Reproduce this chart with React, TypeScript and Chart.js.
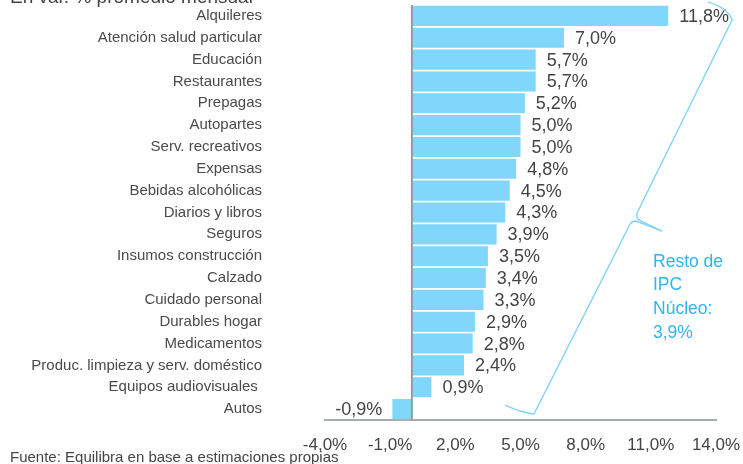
import { useEffect, useRef } from 'react';
import { Chart, registerables } from 'chart.js';

Chart.register(...registerables);

const categories = [
  'Alquileres',
  'Atención salud particular',
  'Educación',
  'Restaurantes',
  'Prepagas',
  'Autopartes',
  'Serv. recreativos',
  'Expensas',
  'Bebidas alcohólicas',
  'Diarios y libros',
  'Seguros',
  'Insumos construcción',
  'Calzado',
  'Cuidado personal',
  'Durables hogar',
  'Medicamentos',
  'Produc. limpieza y serv. doméstico',
  'Equipos audiovisuales ',
  'Autos',
];
const values = [11.8, 7.0, 5.7, 5.7, 5.2, 5.0, 5.0, 4.8, 4.5, 4.3, 3.9, 3.5, 3.4, 3.3, 2.9, 2.8, 2.4, 0.9, -0.9];
const xTicks = [-4, -1, 2, 5, 8, 11, 14];
const titleText = 'En var. % promedio mensual';
const sourceText = 'Fuente: Equilibra en base a estimaciones propias';
const noteLines = ['Resto de', 'IPC', 'Núcleo:', '3,9%'];

const FONT = '"Liberation Sans", Arial, Helvetica, sans-serif';
const fmt = (v: number) => v.toFixed(1).replace('.', ',') + '%';

// brace annotation, in data units (x value, category index)
const braceA: [number, number][] = [
  [13.63, -0.64], [14.55, -0.36], [14.74, 0.19], [10.41, 8.93], [10.23, 9.25], [10.55, 9.39], [11.51, 9.85],
];
const braceB: [number, number][] = [
  [11.51, 9.85], [10.32, 9.39], [10.09, 9.39], [10.0, 9.62], [5.62, 18.23], [4.98, 18.14], [4.29, 17.82],
];

const overlay = {
  id: 'overlay',
  afterDatasetsDraw(chart: any) {
    const { ctx, chartArea, scales } = chart;
    const x = scales.x;
    const y = scales.y;
    ctx.save();
    // zero line
    const zx = x.getPixelForValue(0);
    ctx.strokeStyle = '#9a9a9a';
    ctx.lineWidth = 2;
    ctx.beginPath();
    ctx.moveTo(zx, chartArea.top);
    ctx.lineTo(zx, chartArea.bottom);
    ctx.stroke();

    // value labels
    ctx.font = `18px ${FONT}`;
    ctx.fillStyle = '#444444';
    ctx.textBaseline = 'middle';
    const meta = chart.getDatasetMeta(0);
    meta.data.forEach((bar: any, i: number) => {
      const v = values[i];
      if (v >= 0) {
        ctx.textAlign = 'left';
        ctx.fillText(fmt(v), bar.x + 11, bar.y + 1);
      } else {
        ctx.textAlign = 'right';
        ctx.fillText(fmt(v), bar.x - 10, bar.y + 1);
      }
    });

    // brace
    const P = (p: [number, number]) => [x.getPixelForValue(p[0]), y.getPixelForValue(p[1])];
    ctx.strokeStyle = '#7fd3f7';
    ctx.lineWidth = 1.4;
    const drawHalf = (pts: [number, number][], first: boolean) => {
      const q = pts.map(P);
      ctx.beginPath();
      ctx.moveTo(q[0][0], q[0][1]);
      if (first) {
        ctx.quadraticCurveTo(q[1][0], q[1][1], q[2][0], q[2][1]);
        ctx.lineTo(q[3][0], q[3][1]);
        ctx.quadraticCurveTo(q[4][0], q[4][1], q[5][0], q[5][1]);
        ctx.lineTo(q[6][0], q[6][1]);
      } else {
        ctx.lineTo(q[1][0], q[1][1]);
        ctx.quadraticCurveTo(q[2][0], q[2][1], q[3][0], q[3][1]);
        ctx.lineTo(q[4][0], q[4][1]);
        ctx.quadraticCurveTo(q[5][0], q[5][1], q[6][0], q[6][1]);
      }
      ctx.stroke();
    };
    drawHalf(braceA, true);
    drawHalf(braceB, false);

    // note text
    ctx.font = `17.5px ${FONT}`;
    ctx.fillStyle = '#2db6ef';
    ctx.textAlign = 'left';
    ctx.textBaseline = 'middle';
    const nx = x.getPixelForValue(11.1);
    noteLines.forEach((t, i) => {
      ctx.fillText(t, nx, y.getPixelForValue(11.27 + i * 1.08));
    });

    // title (cut off at top) and source
    ctx.fillStyle = '#444444';
    ctx.textBaseline = 'alphabetic';
    ctx.font = `19px ${FONT}`;
    ctx.fillText(titleText, 10, 3);
    ctx.font = `15px ${FONT}`;
    ctx.fillText(sourceText, 10, 462);
    ctx.restore();
  },
};

export default function App() {
  const ref = useRef<HTMLCanvasElement | null>(null);
  useEffect(() => {
    if (!ref.current) return;
    const chart = new Chart(ref.current, {
      type: 'bar',
      data: {
        labels: categories,
        datasets: [
          {
            data: values,
            backgroundColor: '#80d6fb',
            borderWidth: 0,
            barPercentage: 0.92,
            categoryPercentage: 1,
          },
        ],
      },
      options: {
        indexAxis: 'y',
        animation: false,
        responsive: false,
        events: [],
        layout: { padding: { top: 5, right: 27, bottom: 0, left: 0 } },
        plugins: { legend: { display: false }, tooltip: { enabled: false }, title: { display: false } },
        scales: {
          x: {
            type: 'linear',
            min: -4,
            max: 14,
            afterBuildTicks: (s: any) => {
              s.ticks = xTicks.map((v) => ({ value: v }));
            },
            afterFit: (s: any) => {
              s.height = 44;
              s.paddingLeft = 0;
              s.paddingRight = 0;
              s.paddingTop = 0;
              s.paddingBottom = 0;
            },
            grid: { display: false, drawTicks: false },
            border: { display: true, color: '#a6aeae', width: 2 },
            ticks: {
              padding: 15,
              color: '#444444',
              font: { family: FONT, size: 17 },
              maxRotation: 0,
              autoSkip: false,
              callback: (v: any) => fmt(Number(v)),
            },
          },
          y: {
            type: 'category',
            afterFit: (s: any) => {
              s.width = 325;
              s.paddingLeft = 0;
              s.paddingRight = 0;
              s.paddingTop = 0;
              s.paddingBottom = 0;
            },
            grid: { display: false, drawTicks: false },
            border: { display: false },
            ticks: {
              padding: 63,
              color: '#4a4a4a',
              font: { family: FONT, size: 15 },
              autoSkip: false,
            },
          },
        },
      },
      plugins: [overlay],
    });
    return () => chart.destroy();
  }, []);
  return (
    <div style={{ position: 'absolute', left: 0, top: 0, width: 743, height: 464, background: '#fff' }}>
      <canvas ref={ref} width={743} height={464} style={{ display: 'block' }} />
    </div>
  );
}
